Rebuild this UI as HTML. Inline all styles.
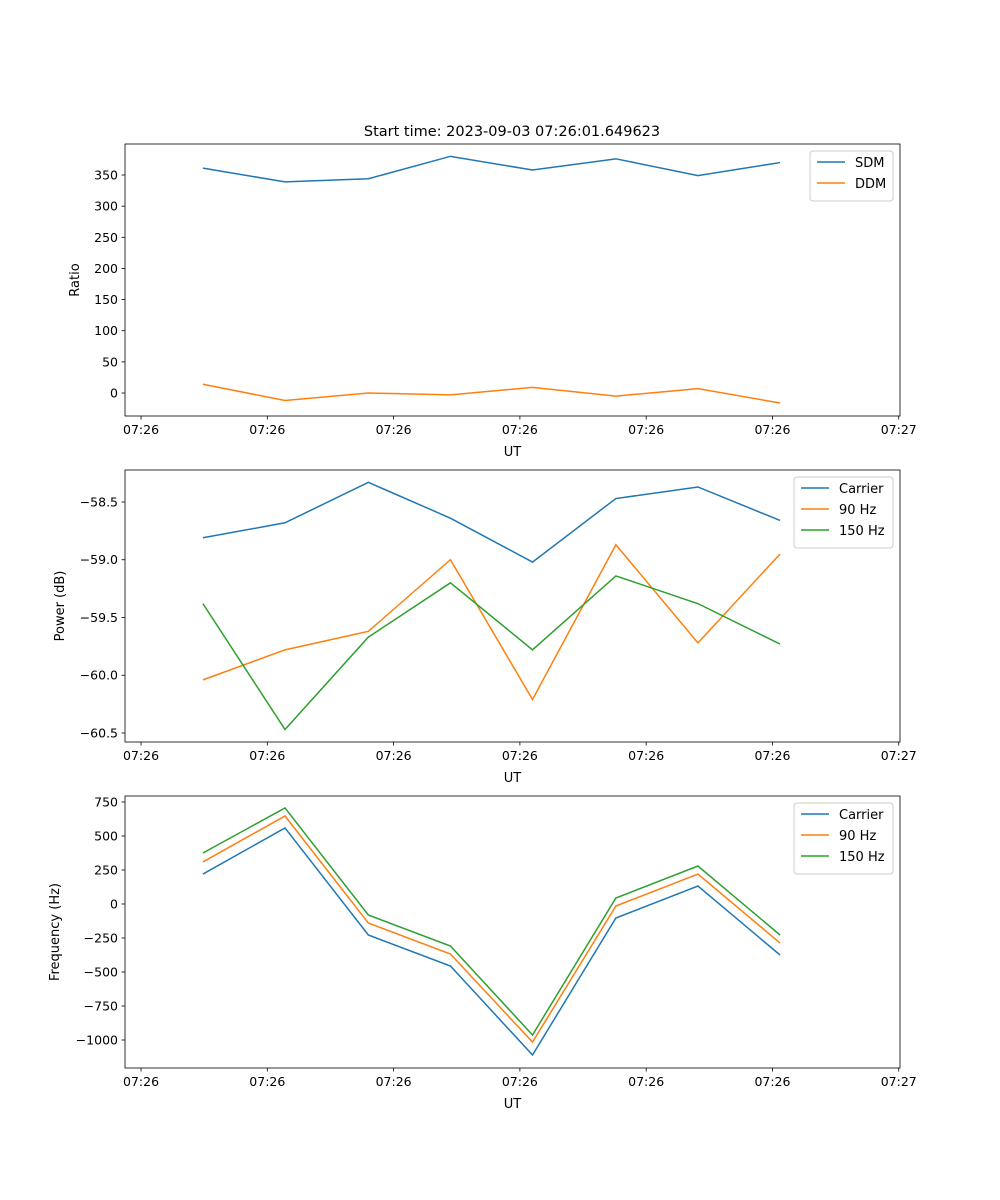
<!DOCTYPE html>
<html><head><meta charset="utf-8"><style>
body{margin:0;background:#fff}
svg{display:block;font-family:"DejaVu Sans","Liberation Sans",sans-serif}
</style></head><body>
<svg id="fig" width="1000" height="1200">
<text x="512" y="136" font-size="14.5" text-anchor="middle">Start time: 2023-09-03 07:26:01.649623</text>
</svg>
<script>
// shared time data (seconds after 07:26:00)
const times = [4.9, 11.4, 18.0, 24.5, 31.0, 37.6, 44.1, 50.6];
const xTicks = [0, 10, 20, 30, 40, 50, 60];
const xTickLabels = ["07:26","07:26","07:26","07:26","07:26","07:26","07:27"];
// panel 1
const sdm = [361, 339, 344, 380, 358, 376, 349, 370];
const ddm = [14, -12, 0, -3, 9, -5, 7, -16];
const ratioTicks = [0, 50, 100, 150, 200, 250, 300, 350];
// panel 2
const powCarrier = [-58.81, -58.68, -58.33, -58.64, -59.02, -58.47, -58.37, -58.66];
const pow90 = [-60.04, -59.78, -59.62, -59.00, -60.21, -58.87, -59.72, -58.95];
const pow150 = [-59.38, -60.47, -59.67, -59.20, -59.78, -59.14, -59.38, -59.73];
const powTicks = [-58.5, -59.0, -59.5, -60.0, -60.5];
// panel 3
const freqCarrier = [220, 559, -228, -456, -1110, -103, 132, -375];
const freq90 = [309, 647, -140, -368, -1015, -15, 220, -287];
const freq150 = [375, 706, -81, -309, -963, 44, 279, -228];
const freqTicks = [750, 500, 250, 0, -250, -500, -750, -1000];

const NS = "http://www.w3.org/2000/svg";
const svg = document.getElementById('fig');
const C = ['#1f77b4', '#ff7f0e', '#2ca02c'];
function mk(tag, attrs, parent) {
  const e = document.createElementNS(NS, tag);
  for (const k in attrs) e.setAttribute(k, attrs[k]);
  (parent || svg).appendChild(e);
  return e;
}
const L = 125, R = 900, xd0 = -1.27, xd1 = 60.1;
const xs = t => L + (t - xd0) / (xd1 - xd0) * (R - L);
function fmt(v, dec) {
  const s = v.toFixed(dec);
  return s.replace('-', '\u2212');
}
function panel(name, top, bot, y0, y1, ticks, dec, ylabel, ylabX, series, names, legend) {
  const g = mk('g', {});
  
  
  const ys = v => bot - (v - y0) / (y1 - y0) * (bot - top);
  ticks.forEach(v => {
    const y = ys(v);
    const t = mk('line', {x1: L - 3.5, x2: L, y1: y, y2: y, stroke: '#000', 'stroke-width': 0.8}, g);
    
    
    const tx = mk('text', {x: L - 7, y: y + 4.5, 'font-size': 12.5, 'text-anchor': 'end'}, g);
    tx.textContent = fmt(v, dec);
    
    
  });
  xTicks.forEach((v, i) => {
    const x = xs(v);
    const t = mk('line', {x1: x, x2: x, y1: bot, y2: bot + 3.5, stroke: '#000', 'stroke-width': 0.8}, g);
    
    
    const tx = mk('text', {x: x, y: bot + 18, 'font-size': 12.5, 'text-anchor': 'middle'}, g);
    tx.textContent = xTickLabels[i];
    
    
  });
  series.forEach((s, i) => {
    const p = mk('polyline', {points: s.map((v, j) => xs(times[j]) + ',' + ys(v)).join(' '), fill: 'none', stroke: C[i], 'stroke-width': 1.5}, g);
    
    
  });
  const fr = mk('rect', {x: L, y: top, width: R - L, height: bot - top, fill: 'none', stroke: '#000', 'stroke-width': 0.8}, g);
  
  
  const xl = mk('text', {x: (L + R) / 2, y: bot + 40, 'font-size': 13, 'text-anchor': 'middle'}, g);
  xl.textContent = 'UT';
  
  
  const cy = (top + bot) / 2;
  const yl = mk('text', {x: ylabX, y: cy, 'font-size': 13, 'text-anchor': 'middle', transform: 'rotate(-90 ' + ylabX + ' ' + cy + ')'}, g);
  yl.textContent = ylabel;
  
  
  // legend
  const lg = mk('g', {}, g);
  
  
  const lh = 8 + names.length * 21;
  mk('rect', {x: legend.x, y: top + 7, width: legend.w, height: lh, rx: 3, fill: '#fff', stroke: '#ccc', 'stroke-width': 1}, lg);
  names.forEach((n, i) => {
    const y = top + 18 + i * 21;
    const e = mk('g', {}, lg);
    
    
    mk('line', {x1: legend.x + 7, x2: legend.x + 35, y1: y, y2: y, stroke: C[i], 'stroke-width': 1.5}, e);
    const t = mk('text', {x: legend.x + 45, y: y + 5, 'font-size': 13}, e);
    t.textContent = n;
  });
}
panel('ratio-panel', 144, 416, -36.9, 399.8, ratioTicks, 0, 'Ratio', 79, [sdm, ddm], ['SDM', 'DDM'], {x: 810, w: 83});
panel('power-panel', 470, 742, -60.578, -58.223, powTicks, 1, 'Power (dB)', 64, [powCarrier, pow90, pow150], ['Carrier', '90 Hz', '150 Hz'], {x: 794, w: 99});
panel('frequency-panel', 796, 1068, -1205.9, 794, freqTicks, 0, 'Frequency (Hz)', 59, [freqCarrier, freq90, freq150], ['Carrier', '90 Hz', '150 Hz'], {x: 794, w: 99});
</script>
</body></html>
